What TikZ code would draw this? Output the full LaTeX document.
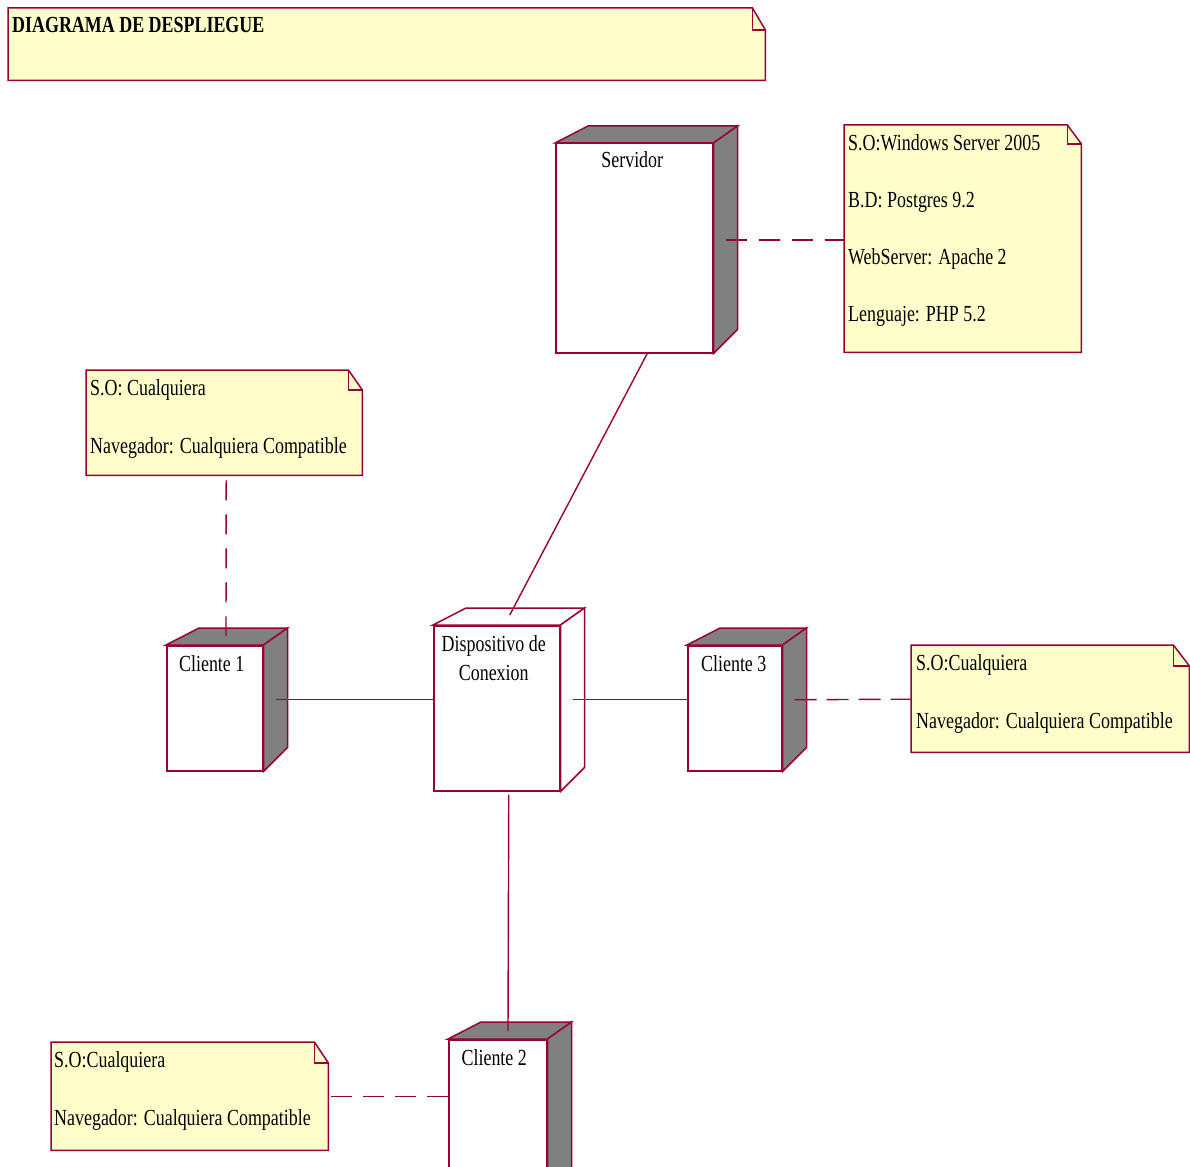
\documentclass[tikz,border=0pt]{standalone}
\usepackage{fontspec}
\setmainfont{Liberation Serif}[FakeStretch=0.78]
\usetikzlibrary{calc}
\definecolor{umlred}{HTML}{990033}
\definecolor{notefill}{HTML}{FFFFCC}
\definecolor{sidegray}{HTML}{808080}
\tikzset{
  face/.style={draw=umlred, line width=1.5pt, line join=miter},
  devfront/.style 2 args={face, fill=white, rectangle, anchor=north west, inner sep=0pt, minimum width=#1, minimum height=#2},
  notebox/.style 2 args={rectangle, anchor=north west, inner sep=0pt, minimum width=#1, minimum height=#2},
  notebody/.style={face, fill=notefill},
  txt/.style={inner sep=0pt, anchor=base west, font=\fontsize{23}{29}\selectfont},
  devtxt/.style={inner sep=0pt, anchor=base, font=\fontsize{23}{29}\selectfont},
  edge/.style={draw=umlred, line width=1.4pt},
  dashedge/.style={edge, dash pattern=on #1 off 11pt},
  dashedge/.default=19pt,
}
% folded-corner note outline
\newcommand{\drawnote}[3]{%
  \path[notebody] (#1.north west) -- ($(#1.north east)+(-#2,0)$) -- ($(#1.north east)+(0,#3)$)
     -- (#1.south east) -- (#1.south west) -- cycle;
  \draw[face] ($(#1.north east)+(-#2,0)$) -- ($(#1.north east)+(-#2,#3)$) -- ($(#1.north east)+(0,#3)$);
}
% 3D faces of a deployment node
\newcommand{\drawdevice}[2]{%
  \path[face, fill=#2] (#1.north west) -- ($(#1.north west)+(33,-17)$) -- ($(#1.north east)+(24,-17)$)
     -- (#1.north east) -- cycle;
  \path[face, fill=#2] (#1.north east) -- ($(#1.north east)+(24,-17)$) -- ($(#1.south east)+(24,-24)$)
     -- (#1.south east) -- cycle;
}
\begin{document}
\begin{tikzpicture}[x=1pt, y=-1pt]
\useasboundingbox (0,0) rectangle (1190,1166);
\clip (0,0) rectangle (1190,1166);

% ---- notes (placeholders) ----
\node[notebox={757pt}{72pt}] (title) at (8,8) {};
\node[notebox={237pt}{227pt}] (srvnote) at (844,125) {};
\node[notebox={276pt}{105pt}] (c1note) at (86,370) {};
\node[notebox={278pt}{107pt}] (c3note) at (911,645) {};
\node[notebox={277pt}{108pt}] (c2note) at (51,1042) {};
\drawnote{title}{13}{22}
\drawnote{srvnote}{14}{19}
\drawnote{c1note}{14}{20}
\drawnote{c3note}{16}{21}
\drawnote{c2note}{14}{21}

% ---- devices ----
\node[devfront={157pt}{209pt}] (srv) at (555,143) {};
\node[devfront={96pt}{125pt}] (c1) at (166,645) {};
\node[devfront={126pt}{165pt}] (disp) at (433,625) {};
\node[devfront={94pt}{125pt}] (c3) at (687,645) {};
\node[devfront={98pt}{160pt}] (c2) at (448,1039) {};
\drawdevice{srv}{sidegray}
\drawdevice{c1}{sidegray}
\drawdevice{disp}{white}
\drawdevice{c3}{sidegray}
\drawdevice{c2}{sidegray}

% ---- connectors ----
\draw[edge, dash pattern=on 21pt off 12pt] ($(srv.north east)+(12,97)$) -- ($(srvnote.north west)+(0,115)$);
\draw[edge] ($(srv.south)+(13,0)$) -- ($(disp.north)+(13,-10)$);
\draw[edge] ($(c1.east)+(12,-8.5)$) -- ($(disp.west)+(0,-8.5)$);
\draw[edge] ($(disp.east)+(12,-8.5)$) -- ($(c3.west)+(0,-8.5)$);
\draw[edge, dash pattern=on 22pt off 10pt] ($(c3.east)+(12,-8.5)$) -- ($(c3note.west)+(0,0.5)$);
\draw[edge, dash pattern=on 20pt off 14pt] ($(c1note.south)+(2,5)$) -- ($(c1.north west)+(60,-9)$);
\draw[edge] ($(disp.south)+(12,3)$) -- ($(c2.north west)+(60,-8)$);
\draw[edge, dash pattern=on 21pt off 11pt] ($(c2note.east)+(3,0)$) -- (c2note.east -| c2.west);

% ---- texts ----
\node[txt, font=\fontsize{23}{29}\selectfont\bfseries] (titletxt) at ($(title.north west)+(4,25)$) {DIAGRAMA DE DESPLIEGUE};
\node[txt] (s1) at ($(srvnote.north west)+(4,26)$) {S.O:Windows Server 2005};
\node[txt] (s2) at ($(srvnote.north west)+(4,83)$) {B.D: Postgres 9.2};
\node[txt] (s3) at ($(srvnote.north west)+(4,139)$) {WebServer: Apache 2};
\node[txt] (s4) at ($(srvnote.north west)+(4,196)$) {Lenguaje: PHP 5.2};
\node[txt] (a1) at ($(c1note.north west)+(4,25)$) {S.O: Cualquiera};
\node[txt] (a2) at ($(c1note.north west)+(4,83)$) {Navegador: Cualquiera Compatible};
\node[txt] (b1) at ($(c3note.north west)+(5,25)$) {S.O:Cualquiera};
\node[txt] (b2) at ($(c3note.north west)+(5,83)$) {Navegador: Cualquiera Compatible};
\node[txt] (d1) at ($(c2note.north west)+(3,25)$) {S.O:Cualquiera};
\node[txt] (d2) at ($(c2note.north west)+(3,83)$) {Navegador: Cualquiera Compatible};

\node[devtxt] (srvlbl) at ($(srv.north)+(-2,25)$) {Servidor};
\node[devtxt] (c1lbl) at ($(c1.north)+(-3,26)$) {Cliente 1};
\node[devtxt] (displbl1) at ($(disp.north)+(-3,26)$) {Dispositivo de};
\node[devtxt] (displbl2) at ($(disp.north)+(-3,55)$) {Conexion};
\node[devtxt] (c3lbl) at ($(c3.north)+(-1,26)$) {Cliente 3};
\node[devtxt] (c2lbl) at ($(c2.north)+(-3.5,26)$) {Cliente 2};
\end{tikzpicture}
\end{document}
